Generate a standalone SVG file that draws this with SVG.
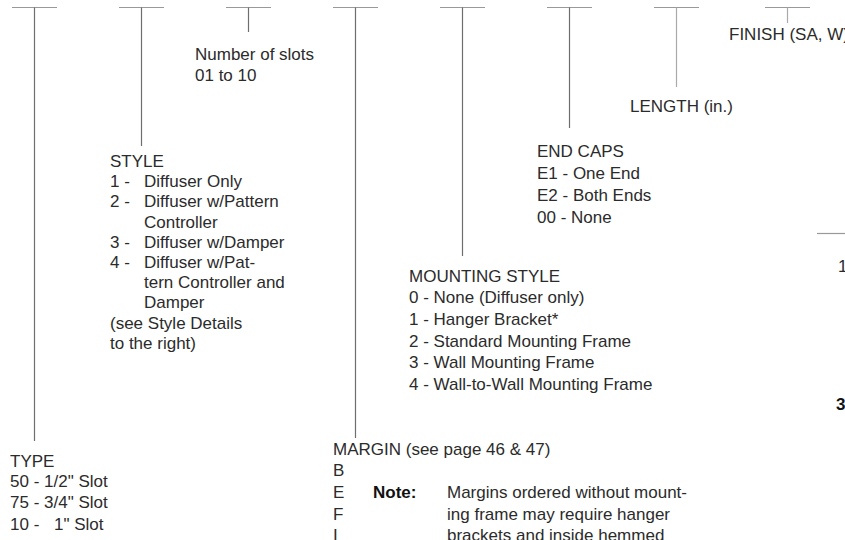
<svg xmlns="http://www.w3.org/2000/svg" width="845" height="540" viewBox="0 0 845 540">
<style>
text{font-family:"Liberation Sans",Arial,sans-serif;font-size:17px;fill:#2b2b2b}
.b{font-weight:bold;fill:#111}
.bar{stroke:#999;stroke-width:1.2}
.stem{stroke:#6e6e6e;stroke-width:1.2}
.stem2{stroke:#aaa;stroke-width:1.2}
</style>
<rect width="845" height="540" fill="#fff"/>
<g id="connectors" fill="none">
<line class="bar" x1="12" y1="7.5" x2="57" y2="7.5"/><line class="stem" x1="34.5" y1="7.5" x2="34.5" y2="441"/>
<line class="bar" x1="119" y1="7.5" x2="164" y2="7.5"/><line class="stem" x1="141.5" y1="7.5" x2="141.5" y2="146"/>
<line class="bar" x1="226" y1="7.5" x2="271" y2="7.5"/><line class="stem" x1="248.5" y1="7.5" x2="248.5" y2="32"/>
<line class="bar" x1="333" y1="7.5" x2="378" y2="7.5"/><line class="stem" x1="355.5" y1="7.5" x2="355.5" y2="438"/>
<line class="bar" x1="440" y1="7.5" x2="485" y2="7.5"/><line class="stem" x1="462.5" y1="7.5" x2="462.5" y2="256"/>
<line class="bar" x1="547" y1="7.5" x2="592" y2="7.5"/><line class="stem" x1="569.5" y1="7.5" x2="569.5" y2="128"/>
<line class="bar" x1="654" y1="7.5" x2="699" y2="7.5"/><line class="stem2" x1="676.5" y1="7.5" x2="676.5" y2="87"/>
<line class="bar" x1="765" y1="7.5" x2="810" y2="7.5"/><line class="stem2" x1="787.5" y1="7.5" x2="787.5" y2="23"/>
<line class="bar" x1="817" y1="233.5" x2="845" y2="233.5"/>
</g>
<g id="type">
<text x="10" y="467">TYPE</text>
<text x="10" y="487">50 - 1/2" Slot</text>
<text x="10" y="508">75 - 3/4" Slot</text>
<text x="10" y="530">10 -<tspan x="54">1" Slot</tspan></text>
</g>
<g id="style">
<text x="110" y="167">STYLE</text>
<text x="110" y="187">1 -</text><text x="144" y="187">Diffuser Only</text>
<text x="110" y="207">2 -</text><text x="144" y="207">Diffuser w/Pattern</text>
<text x="144" y="228">Controller</text>
<text x="110" y="248">3 -</text><text x="144" y="248">Diffuser w/Damper</text>
<text x="110" y="268">4 -</text><text x="144" y="268">Diffuser w/Pat-</text>
<text x="144" y="288">tern Controller and</text>
<text x="144" y="308">Damper</text>
<text x="110" y="329">(see Style Details</text>
<text x="110" y="349">to the right)</text>
</g>
<g id="slots">
<text x="195" y="60">Number of slots</text>
<text x="195" y="81">01 to 10</text>
</g>
<g id="margin">
<text x="333" y="455">MARGIN (see page 46 &amp; 47)</text>
<text x="333" y="476">B</text>
<text x="333" y="498">E</text>
<text x="333" y="520">F</text>
<text x="333" y="541">I</text>
<text class="b" x="373" y="498">Note:</text>
<text x="447" y="498">Margins ordered without mount-</text>
<text x="447" y="520">ing frame may require hanger</text>
<text x="447" y="541">brackets and inside hemmed</text>
</g>
<g id="mounting">
<text x="409" y="282">MOUNTING STYLE</text>
<text x="409" y="303">0 - None (Diffuser only)</text>
<text x="409" y="325">1 - Hanger Bracket*</text>
<text x="409" y="347">2 - Standard Mounting Frame</text>
<text x="409" y="368">3 - Wall Mounting Frame</text>
<text x="409" y="390">4 - Wall-to-Wall Mounting Frame</text>
</g>
<g id="endcaps">
<text x="537" y="157">END CAPS</text>
<text x="537" y="179">E1 - One End</text>
<text x="537" y="201">E2 - Both Ends</text>
<text x="537" y="223">00 - None</text>
</g>
<g id="length">
<text x="630" y="112">LENGTH (in.)</text>
</g>
<g id="finish">
<text x="729" y="40">FINISH (SA, W)</text>
</g>
<g id="right-edge">
<text x="838" y="272">1</text>
<text class="b" x="836" y="410">3</text>
</g>
</svg>
